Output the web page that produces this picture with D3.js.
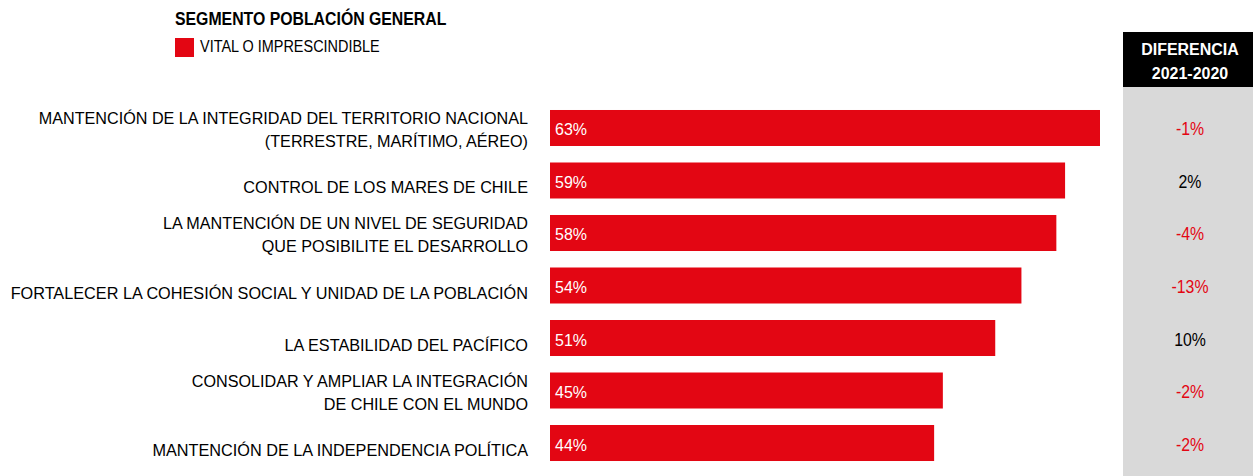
<!DOCTYPE html>
<html><head><meta charset="utf-8">
<script src="https://cdn.jsdelivr.net/npm/d3@7"></script>
<style>
body{margin:0;background:#fff;}
text{font-family:"Liberation Sans Narrow","Arial Narrow","Liberation Sans",Arial,sans-serif;}
</style></head>
<body>
<svg id="chart" width="1253" height="476"></svg>
<script>
const categories = [
  ["MANTENCIÓN DE LA INTEGRIDAD DEL TERRITORIO NACIONAL","(TERRESTRE, MARÍTIMO, AÉREO)"],
  ["CONTROL DE LOS MARES DE CHILE"],
  ["LA MANTENCIÓN DE UN NIVEL DE SEGURIDAD","QUE POSIBILITE EL DESARROLLO"],
  ["FORTALECER LA COHESIÓN SOCIAL Y UNIDAD DE LA POBLACIÓN"],
  ["LA ESTABILIDAD DEL PACÍFICO"],
  ["CONSOLIDAR Y AMPLIAR LA INTEGRACIÓN","DE CHILE CON EL MUNDO"],
  ["MANTENCIÓN DE LA INDEPENDENCIA POLÍTICA"]
];
const values = [63, 59, 58, 54, 51, 45, 44];
const differences = [-1, 2, -4, -13, 10, -2, -2];
const title = "SEGMENTO POBLACIÓN GENERAL";
const legendLabel = "VITAL O IMPRESCINDIBLE";
const diffHeader = ["DIFERENCIA", "2021-2020"];

const svg = d3.select("#chart");
const red = "#e30613";
const ids = d3.range(categories.length);

const x = d3.scaleLinear().domain([0, 63]).range([550, 1100]);
const y = d3.scaleBand().domain(ids).range([101.75, 469.25]).paddingInner(0.3143).paddingOuter(0.157);

function txt(px, py, s, opts) {
  const o = Object.assign({size: 17, sx: 0.94, anchor: "start", weight: "normal", fill: "#000"}, opts || {});
  return svg.append("text")
    .attr("transform", `translate(${px},${py}) scale(${o.sx},1)`)
    .attr("text-anchor", o.anchor).attr("font-size", o.size)
    .attr("font-weight", o.weight).attr("fill", o.fill).text(s);
}

// Title & legend
txt(175, 25, title, {size: 18, sx: 0.88, weight: "bold"});
svg.append("rect").attr("x", 175).attr("y", 38).attr("width", 19).attr("height", 19).attr("fill", red);
txt(200, 52, legendLabel, {size: 17, sx: 0.85});

// Diff panel
svg.append("rect").attr("x", 1123).attr("y", 87).attr("width", 130).attr("height", 389).attr("fill", "#d9d9d9");
svg.append("rect").attr("x", 1123).attr("y", 32).attr("width", 130).attr("height", 55).attr("fill", "#000");
txt(1190, 55, diffHeader[0], {size: 17, sx: 0.94, weight: "bold", fill: "#fff", anchor: "middle"});
txt(1190, 78.5, diffHeader[1], {size: 17, sx: 0.94, weight: "bold", fill: "#fff", anchor: "middle"});

// Bars
svg.selectAll("rect.bar").data(ids).join("rect").attr("class", "bar")
  .attr("x", x(0)).attr("y", d => y(d)).attr("width", d => x(values[d]) - x(0)).attr("height", y.bandwidth())
  .attr("fill", red);

ids.forEach(i => {
  const cy = y(i) + y.bandwidth() / 2;
  txt(x(0) + 5, cy + 7.5, values[i] + "%", {size: 17, sx: 0.94, fill: "#fff"});
  txt(1190, cy + 7.5, differences[i] + "%", {size: 18, sx: 0.88, anchor: "middle", fill: differences[i] < 0 ? red : "#000"});
  const lines = categories[i];
  if (lines.length === 1) {
    txt(528, cy + 13, lines[0], {size: 17, sx: 0.956, anchor: "end"});
  } else {
    lines.forEach((l, j) => {
      txt(528, cy + 7.5 + (j - 0.5) * 23, l, {size: 17, sx: 0.952, anchor: "end"});
    });
  }
});
</script>
</body></html>
